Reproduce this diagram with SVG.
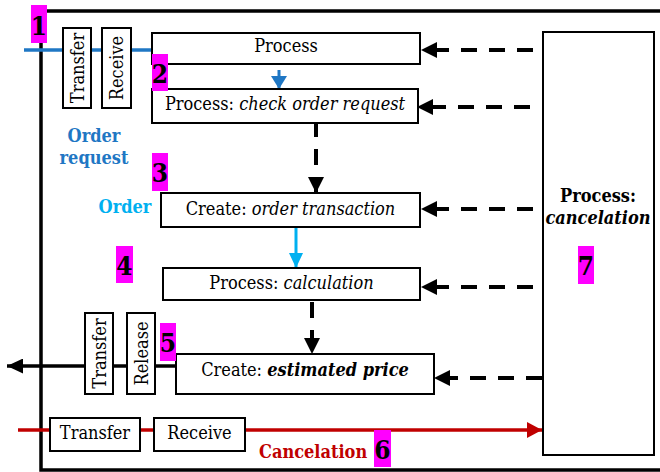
<svg xmlns="http://www.w3.org/2000/svg" width="660" height="472" viewBox="0 0 660 472">
<style>
text{font-family:'DejaVu Serif Condensed','DejaVu Serif',serif;font-stretch:condensed;font-size:18px;fill:#000}
.box{fill:#fff;stroke:#000;stroke-width:2}
.c{text-anchor:middle}
.b{font-weight:bold}
.i{font-style:italic}
.num{font-weight:bold;font-size:26px;text-anchor:middle}
.hl{fill:#ff00ff}
.dash{stroke:#000;stroke-width:4;stroke-dasharray:16 12;fill:none;marker-end:url(#mk)}
</style>
<defs>
<marker id="mk" markerWidth="16" markerHeight="16" refX="16" refY="8" orient="auto" markerUnits="userSpaceOnUse"><path d="M0,0 L16,8 L0,16 z" fill="#000"/></marker>
<marker id="mkb" markerWidth="13" markerHeight="16" refX="13" refY="8" orient="auto" markerUnits="userSpaceOnUse"><path d="M0,0 L13,8 L0,16 z" fill="#1f77c4"/></marker>
<marker id="mkl" markerWidth="15" markerHeight="14" refX="15" refY="7" orient="auto" markerUnits="userSpaceOnUse"><path d="M0,0 L15,7 L0,14 z" fill="#00b0f0"/></marker>
<marker id="mkr" markerWidth="15" markerHeight="16" refX="15" refY="8" orient="auto" markerUnits="userSpaceOnUse"><path d="M0,0 L15,8 L0,16 z" fill="#c00000"/></marker>
<marker id="mkk" markerWidth="16" markerHeight="15" refX="16" refY="7.5" orient="auto" markerUnits="userSpaceOnUse"><path d="M0,0 L16,7.5 L0,15 z" fill="#000"/></marker>
</defs>
<rect width="660" height="472" fill="#fff"/>
<rect id="frame" x="41" y="11" width="640" height="459" fill="none" stroke="#000" stroke-width="3.5"/>

<g id="connectors">
<line x1="24" y1="50" x2="152" y2="50" stroke="#1f77c4" stroke-width="3.5"/>
<line x1="279" y1="70" x2="279" y2="89" stroke="#1f77c4" stroke-width="3" marker-end="url(#mkb)"/>
<line class="dash" x1="316" y1="121" x2="316" y2="193"/>
<line x1="296" y1="227" x2="296" y2="268" stroke="#00b0f0" stroke-width="3" marker-end="url(#mkl)"/>
<line class="dash" x1="312" y1="302" x2="312" y2="354"/>
<line x1="176" y1="366" x2="7" y2="366" stroke="#000" stroke-width="3.5" marker-end="url(#mkk)"/>
<line x1="18" y1="430" x2="542" y2="430" stroke="#c00000" stroke-width="3.5" marker-end="url(#mkr)"/>
<line class="dash" x1="533" y1="50" x2="421" y2="50"/>
<line class="dash" x1="530" y1="107" x2="417" y2="107"/>
<line class="dash" x1="533" y1="209" x2="421" y2="209"/>
<line class="dash" x1="533" y1="287" x2="421" y2="287"/>
<line class="dash" x1="542" y1="378" x2="434" y2="378"/>
</g>

<g id="transfer1"><rect class="box" x="63" y="28" width="28" height="80"/><text class="c" transform="translate(77,68) rotate(-90)" y="6.5">Transfer</text></g>
<g id="receive1"><rect class="box" x="102" y="28" width="29" height="80"/><text class="c" transform="translate(116.5,68) rotate(-90)" y="6.5">Receive</text></g>
<g id="process"><rect class="box" x="152" y="33" width="268" height="31"/><text class="c" x="286" y="52">Process</text></g>
<g id="check"><rect class="box" x="152" y="89" width="266" height="34"/><text class="c" x="285" y="110">Process: <tspan class="i">check order request</tspan></text></g>
<g id="orderreq"><text class="c b" x="94" y="142" style="fill:#1f77c4">Order</text><text class="c b" x="94" y="164" style="fill:#1f77c4">request</text></g>
<g id="order"><text class="c b" x="125" y="213" style="fill:#00b0f0">Order</text></g>
<g id="create1"><rect class="box" x="161" y="193" width="259" height="34"/><text class="c" x="290.5" y="215">Create: <tspan class="i">order transaction</tspan></text></g>
<g id="calc"><rect class="box" x="163" y="268" width="257" height="32"/><text class="c" x="291.5" y="289">Process: <tspan class="i">calculation</tspan></text></g>
<g id="transfer2"><rect class="box" x="85" y="313" width="28" height="81"/><text class="c" transform="translate(99,353.5) rotate(-90)" y="6.5">Transfer</text></g>
<g id="release"><rect class="box" x="127" y="313" width="28" height="81"/><text class="c" transform="translate(141,353.5) rotate(-90)" y="6.5">Release</text></g>
<g id="create2"><rect class="box" x="176" y="354" width="258" height="40"/><text class="c" x="305" y="376">Create: <tspan class="b i">estimated price</tspan></text></g>
<g id="transfer3"><rect class="box" x="50" y="418" width="90" height="33"/><text class="c" x="95" y="439">Transfer</text></g>
<g id="receive3"><rect class="box" x="154" y="418" width="91" height="33"/><text class="c" x="199.5" y="439">Receive</text></g>
<g id="cancellabel"><text class="b" x="259" y="458" style="fill:#c00000">Cancelation</text></g>
<g id="cancel"><rect class="box" x="543" y="32" width="111" height="423"/><text class="c b" x="598" y="202">Process:</text><text class="c b i" x="598" y="224">cancelation</text></g>

<g id="labels">
<g id="l1"><rect class="hl" x="31" y="5" width="16" height="38"/><text class="num" x="39" y="35">1</text></g>
<g id="l2"><rect class="hl" x="152" y="54" width="16" height="37"/><text class="num" x="160" y="83">2</text></g>
<g id="l3"><rect class="hl" x="152" y="153" width="16" height="38"/><text class="num" x="160" y="182">3</text></g>
<g id="l4"><rect class="hl" x="116" y="246" width="17" height="37"/><text class="num" x="124.5" y="275">4</text></g>
<g id="l5"><rect class="hl" x="160" y="323" width="16" height="38"/><text class="num" x="168" y="352">5</text></g>
<g id="l6"><rect class="hl" x="374" y="430" width="17" height="37"/><text class="num" x="382.5" y="459">6</text></g>
<g id="l7"><rect class="hl" x="578" y="246" width="16" height="38"/><text class="num" x="586" y="275">7</text></g>
</g>
</svg>
